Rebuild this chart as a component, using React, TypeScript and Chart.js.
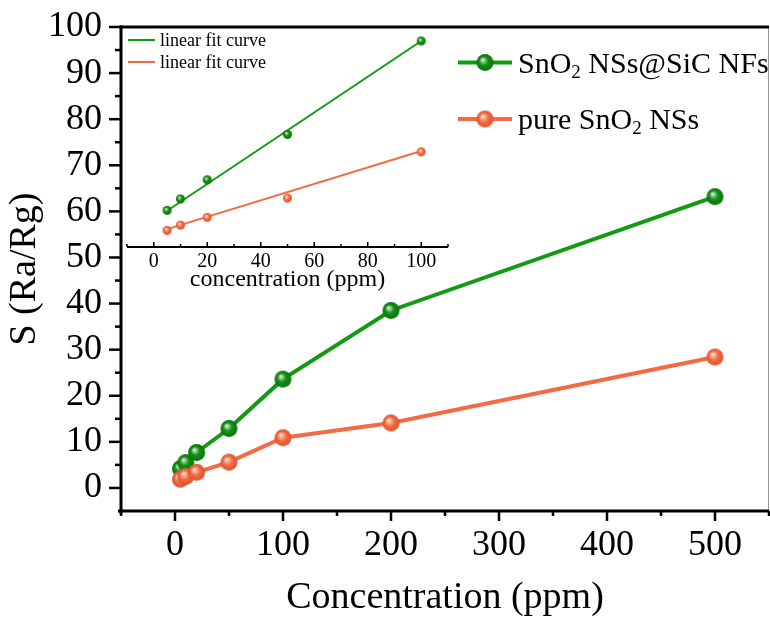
import React, { useEffect, useRef } from 'react';
import { Chart, registerables } from 'chart.js';

Chart.register(...registerables);

// ---------- data ----------
const concentrations = [5, 10, 20, 50, 100, 200, 500];
const sicResponse = [4.2, 5.5, 7.7, 12.9, 23.6, 38.5, 63.2];
const pureResponse = [1.9, 2.5, 3.4, 5.6, 10.9, 14.1, 28.4];

const mainXTicks = [0, 100, 200, 300, 400, 500];
const mainYTicks = [0, 10, 20, 30, 40, 50, 60, 70, 80, 90, 100];
const insetXTicks = [0, 20, 40, 60, 80, 100];

const fitConcentrations = [5, 100];
const sicFit = [4.15, 23.6];
const pureFit = [2.05, 11.0];

const sicLabel = 'SnO₂ NSs@SiC NFs';
const pureLabel = 'pure SnO₂ NSs';
const fitLabel = 'linear fit curve';
const xTitle = 'Concentration (ppm)';
const yTitle = 'S (Ra/Rg)';
const insetXTitle = 'concentration (ppm)';

const sicLegendParts = [{ t: 'SnO' }, { t: '2', sub: true }, { t: ' NSs@SiC NFs' }];
const pureLegendParts = [{ t: 'pure SnO' }, { t: '2', sub: true }, { t: ' NSs' }];

// ---------- style ----------
const GREEN = '#139a13';
const ORANGE = '#f26b45';
const SERIF = "'Liberation Serif', 'Times New Roman', serif";

function makeSphere(r: number, stops: [number, string][]) {
  const size = Math.ceil(r * 2) + 2;
  const c = document.createElement('canvas');
  c.width = size;
  c.height = size;
  const g = c.getContext('2d')!;
  const cx = size / 2;
  const cy = size / 2;
  const grad = g.createRadialGradient(cx - r * 0.3, cy - r * 0.35, 0, cx, cy, r);
  for (const [o, col] of stops) grad.addColorStop(o, col);
  g.fillStyle = grad;
  g.beginPath();
  g.arc(cx, cy, r, 0, Math.PI * 2);
  g.fill();
  return c;
}

const greenStops: [number, string][] = [
  [0, '#f0f2f0'],
  [0.22, '#9cc79c'],
  [0.5, '#139313'],
  [1, '#0a720a'],
];
const orangeStops: [number, string][] = [
  [0, '#fff8f0'],
  [0.25, '#f9b196'],
  [0.55, '#f26a42'],
  [1, '#dc532c'],
];

function drawRich(ctx: CanvasRenderingContext2D, x: number, baseline: number, parts: { t: string; sub?: boolean }[], size: number, subSize: number, subDrop: number) {
  let cx = x;
  for (const p of parts) {
    ctx.font = `${p.sub ? subSize : size}px ${SERIF}`;
    ctx.fillText(p.t, cx, baseline + (p.sub ? subDrop : 0));
    cx += ctx.measureText(p.t).width;
  }
}

function line(ctx: CanvasRenderingContext2D, x1: number, y1: number, x2: number, y2: number) {
  ctx.beginPath();
  ctx.moveTo(x1, y1);
  ctx.lineTo(x2, y2);
  ctx.stroke();
}

function zeroPadding(s: any) {
  s.paddingTop = 0;
  s.paddingBottom = 0;
  s.paddingLeft = 0;
  s.paddingRight = 0;
}

export default function App() {
  const mainRef = useRef<HTMLCanvasElement>(null);
  const insetRef = useRef<HTMLCanvasElement>(null);

  useEffect(() => {
    const greenBig = makeSphere(8.5, greenStops);
    const orangeBig = makeSphere(8.5, orangeStops);
    const greenSmall = makeSphere(4.5, greenStops);
    const orangeSmall = makeSphere(4.5, orangeStops);

    const mainDecor = {
      id: 'mainDecor',
      afterDraw(chart: any) {
        const { ctx, chartArea: a, scales } = chart;
        const x = scales.x;
        const y = scales.y;
        ctx.save();
        ctx.lineCap = 'butt';
        // right thin border
        ctx.strokeStyle = '#9a9a9a';
        ctx.lineWidth = 1;
        line(ctx, a.right - 0.5, a.top, a.right - 0.5, a.bottom);
        // top frame
        ctx.strokeStyle = '#000';
        ctx.lineWidth = 3;
        line(ctx, a.left - 1.5, a.top, a.right, a.top);
        // axes
        line(ctx, a.left, a.top - 1.5, a.left, a.bottom + 3);
        line(ctx, a.left - 3, a.bottom, a.right, a.bottom);
        // x ticks
        ctx.lineWidth = 2.5;
        for (let v = -50; v <= 550; v += 50) {
          const px = x.getPixelForValue(v);
          const major = v % 100 === 0;
          line(ctx, px, a.bottom, px, a.bottom + (major ? 10 : 5));
        }
        // y ticks
        for (let v = 0; v <= 100; v += 5) {
          const py = y.getPixelForValue(v);
          const major = v % 10 === 0;
          line(ctx, a.left, py, a.left - (major ? 12 : 6), py);
        }
        // legend
        const rows = [
          { y: 62.5, color: GREEN, img: greenBig, parts: sicLegendParts },
          { y: 119, color: ORANGE, img: orangeBig, parts: pureLegendParts },
        ];
        for (const r of rows) {
          ctx.strokeStyle = r.color;
          ctx.lineWidth = 4;
          line(ctx, 458, r.y, 512, r.y);
          ctx.drawImage(r.img, 485 - r.img.width / 2, r.y - r.img.height / 2);
          ctx.fillStyle = '#000';
          ctx.textBaseline = 'alphabetic';
          ctx.textAlign = 'left';
          drawRich(ctx, 518, r.y + 10, r.parts, 30, 19, 5);
        }
        ctx.restore();
      },
    };

    const insetDecor = {
      id: 'insetDecor',
      afterDraw(chart: any) {
        const { ctx, chartArea: a, scales } = chart;
        const x = scales.x;
        ctx.save();
        ctx.strokeStyle = '#000';
        ctx.lineWidth = 2;
        line(ctx, a.left, a.bottom, a.right, a.bottom);
        ctx.lineWidth = 1.5;
        for (let v = -10; v <= 110; v += 10) {
          const px = x.getPixelForValue(v);
          const major = v % 20 === 0;
          line(ctx, px, a.bottom, px, a.bottom - (major ? 5 : 3));
        }
        const rows = [
          { y: 40, color: GREEN },
          { y: 62, color: ORANGE },
        ];
        for (const r of rows) {
          ctx.strokeStyle = r.color;
          ctx.lineWidth = 2;
          line(ctx, 128, r.y, 155, r.y);
          ctx.fillStyle = '#000';
          ctx.font = `18px ${SERIF}`;
          ctx.textBaseline = 'alphabetic';
          ctx.textAlign = 'left';
          ctx.fillText(fitLabel, 160, r.y + 5.5);
        }
        ctx.restore();
      },
    };

    const main = new Chart(mainRef.current!, {
      type: 'line',
      data: {
        datasets: [
          {
            label: pureLabel,
            data: concentrations.map((c, i) => ({ x: c, y: pureResponse[i] })),
            borderColor: ORANGE,
            backgroundColor: ORANGE,
            borderWidth: 4,
            pointStyle: orangeBig as any,
            pointRadius: 9,
            tension: 0,
            order: 0,
          },
          {
            label: sicLabel,
            data: concentrations.map((c, i) => ({ x: c, y: sicResponse[i] })),
            borderColor: GREEN,
            backgroundColor: GREEN,
            borderWidth: 4,
            pointStyle: greenBig as any,
            pointRadius: 9,
            tension: 0,
            order: 1,
          },
        ],
      },
      options: {
        animation: false,
        responsive: false,
        devicePixelRatio: 1,
        layout: { autoPadding: false, padding: { top: 27, right: 1, left: 0, bottom: 0 } },
        plugins: { legend: { display: false }, tooltip: { enabled: false } },
        scales: {
          x: {
            type: 'linear',
            min: -50,
            max: 550,
            afterBuildTicks: (s: any) => {
              s.ticks = mainXTicks.map((v) => ({ value: v }));
            },
            afterFit: (s: any) => {
              s.height = 107;
              zeroPadding(s);
            },
            grid: { display: false, drawTicks: false },
            border: { display: false },
            ticks: { font: { family: SERIF, size: 36, lineHeight: 1.2 }, color: '#000', padding: 13, maxRotation: 0 },
            title: {
              display: true,
              text: xTitle,
              color: '#000',
              font: { family: SERIF, size: 38, lineHeight: 1 },
              padding: { top: 0, bottom: 1 },
            },
          },
          y: {
            type: 'linear',
            min: -5,
            max: 100,
            afterBuildTicks: (s: any) => {
              s.ticks = mainYTicks.map((v) => ({ value: v }));
            },
            afterFit: (s: any) => {
              s.width = 121;
              zeroPadding(s);
            },
            grid: { display: false, drawTicks: false },
            border: { display: false },
            ticks: { font: { family: SERIF, size: 36, lineHeight: 1.2 }, color: '#000', padding: 19 },
            title: {
              display: true,
              text: yTitle,
              color: '#000',
              font: { family: SERIF, size: 38, lineHeight: 1.2 },
              padding: { top: 2, bottom: 0 },
            },
          },
        },
      } as any,
      plugins: [mainDecor],
    });

    const insetIdx = concentrations.map((c, i) => i).filter((i) => concentrations[i] <= 100);

    const inset = new Chart(insetRef.current!, {
      type: 'line',
      data: {
        datasets: [
          {
            label: sicLabel,
            data: insetIdx.map((i) => ({ x: concentrations[i], y: sicResponse[i] })),
            showLine: false,
            pointStyle: greenSmall as any,
            pointRadius: 5,
            order: 0,
          },
          {
            label: pureLabel,
            data: insetIdx.map((i) => ({ x: concentrations[i], y: pureResponse[i] })),
            showLine: false,
            pointStyle: orangeSmall as any,
            pointRadius: 5,
            order: 1,
          },
          {
            label: fitLabel,
            data: fitConcentrations.map((c, i) => ({ x: c, y: sicFit[i] })),
            borderColor: GREEN,
            borderWidth: 2,
            pointRadius: 0,
            order: 2,
          },
          {
            label: fitLabel,
            data: fitConcentrations.map((c, i) => ({ x: c, y: pureFit[i] })),
            borderColor: ORANGE,
            borderWidth: 2,
            pointRadius: 0,
            order: 3,
          },
        ],
      },
      options: {
        animation: false,
        responsive: false,
        devicePixelRatio: 1,
        layout: { autoPadding: false, padding: { top: 27, right: 322, left: 127, bottom: 324 } },
        plugins: { legend: { display: false }, tooltip: { enabled: false } },
        scales: {
          x: {
            type: 'linear',
            min: -10,
            max: 110,
            afterBuildTicks: (s: any) => {
              s.ticks = insetXTicks.map((v) => ({ value: v }));
            },
            afterFit: (s: any) => {
              s.height = 47;
              zeroPadding(s);
            },
            grid: { display: false, drawTicks: false },
            border: { display: false },
            ticks: { font: { family: SERIF, size: 20, lineHeight: 1.2 }, color: '#000', padding: 3, maxRotation: 0 },
            title: {
              display: true,
              text: insetXTitle,
              color: '#000',
              font: { family: SERIF, size: 24, lineHeight: 1.2 },
              padding: { top: 0, bottom: 0 },
            },
          },
          y: { type: 'linear', display: false, min: 0, max: 25.2 },
        },
      } as any,
      plugins: [insetDecor],
    });

    return () => {
      main.destroy();
      inset.destroy();
    };
  }, []);

  return (
    <div style={{ position: 'absolute', left: 0, top: 0, width: 770, height: 618, background: '#fff' }}>
      <canvas ref={mainRef} width={770} height={618} style={{ position: 'absolute', left: 0, top: 0 }} />
      <canvas
        ref={insetRef}
        width={770}
        height={618}
        style={{ position: 'absolute', left: 0, top: 0, pointerEvents: 'none' }}
      />
    </div>
  );
}
